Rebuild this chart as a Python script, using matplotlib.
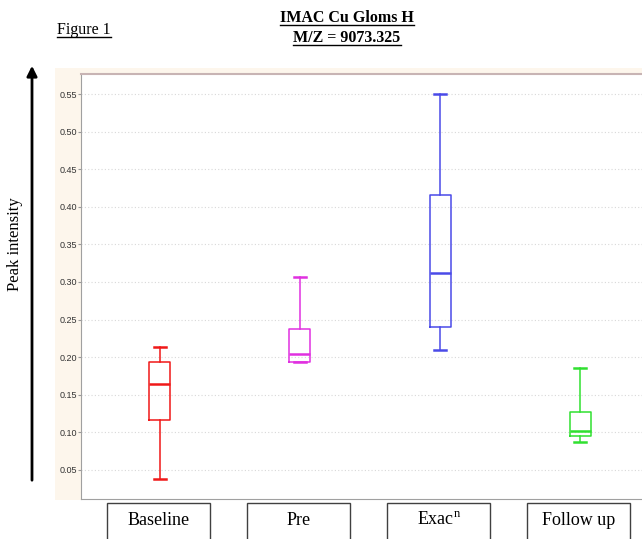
import matplotlib
matplotlib.use('Agg')
import matplotlib.pyplot as plt
from matplotlib.patches import Rectangle, FancyArrowPatch
from matplotlib.lines import Line2D
import matplotlib.transforms as mtransforms

plt.rcParams['mathtext.fontset'] = 'custom'
plt.rcParams['mathtext.rm'] = 'Liberation Serif'

# Datos
categorias = ['Baseline', 'Pre', 'Exac$^{\\mathrm{n}}$', 'Follow up']
whislo = [0.038, 0.193, 0.210, 0.087]
q1 = [0.117, 0.193, 0.240, 0.095]
med = [0.164, 0.204, 0.312, 0.102]
q3 = [0.193, 0.238, 0.416, 0.127]
whishi = [0.213, 0.306, 0.550, 0.185]
colores = ['#f01818', '#e030e0', '#4a4ae8', '#30e030']
yticks = [0.05, 0.10, 0.15, 0.20, 0.25, 0.30, 0.35, 0.40, 0.45, 0.50, 0.55]

W, H = 642, 539
fig = plt.figure(figsize=(W / 100, H / 100), dpi=100)

# panel beige detras del grafico
fondo = fig.add_axes([55 / W, (H - 500) / H, (W - 55) / W, 432 / H], zorder=-5)
fondo.set_facecolor('#fdf6ec')
fondo.set_xticks([])
fondo.set_yticks([])
for s in fondo.spines.values():
    s.set_visible(False)

ax = fig.add_axes([81 / W, (H - 499) / H, (660 - 81) / W, 425 / H], zorder=1)
ax.set_facecolor('white')

stats = []
for i in range(len(categorias)):
    stats.append({'whislo': whislo[i], 'q1': q1[i], 'med': med[i],
                  'q3': q3[i], 'whishi': whishi[i], 'fliers': []})

posiciones = [1, 2, 3, 4]
for i, s in enumerate(stats):
    c = colores[i]
    ax.bxp([s], positions=[posiciones[i]], widths=0.15, showfliers=False,
           boxprops=dict(color=c, linewidth=1.1),
           medianprops=dict(color=c, linewidth=1.8),
           whiskerprops=dict(color=c, linewidth=1.1),
           capprops=dict(color=c, linewidth=1.8),
           capwidths=0.09, zorder=3)

ax.set_xlim(0.436, 4.571)
ax.set_ylim(0.0114, 0.5766)
ax.set_yticks(yticks)
ax.set_yticklabels(['%.2f' % v for v in yticks], fontsize=6.5, color='#333333',
                   family=['Liberation Sans Narrow', 'Liberation Sans'])
ax.set_xticks([])
ax.tick_params(axis='y', length=2, color='#999999', pad=1)
ax.yaxis.grid(True, linestyle=(0, (1, 2)), color='#d8d8d8', linewidth=0.8)
ax.set_axisbelow(True)
for lado in ['left', 'bottom']:
    ax.spines[lado].set_color('#a0a0a0')
ax.spines['top'].set_color('#c8b4b4')
ax.spines['top'].set_linewidth(1.5)
ax.spines['right'].set_visible(False)

# cajas de etiquetas debajo del eje
trans = mtransforms.blended_transform_factory(ax.transData, ax.transAxes)
for i, nombre in enumerate(categorias):
    x = posiciones[i] - 0.01
    ax.add_patch(Rectangle((x - 0.367, -0.12), 0.735, 0.11, transform=trans,
                           facecolor='white', edgecolor='#404040',
                           linewidth=1.0, clip_on=False))
    ax.text(x, -0.05, nombre, transform=trans, ha='center', va='center',
            fontsize=13, family='Liberation Serif', clip_on=False)

# titulos subrayados
t1 = fig.text(347 / W, 1 - 18 / H, 'IMAC Cu Gloms H', ha='center', va='center',
              fontsize=11.5, fontweight='bold', family='Liberation Serif')
t2 = fig.text(347 / W, 1 - 38 / H, 'M/Z = 9073.325', ha='center', va='center',
              fontsize=11.5, fontweight='bold', family='Liberation Serif')
t3 = fig.text(57 / W, 1 - 30 / H, 'Figure 1', ha='left', va='center',
              fontsize=11.5, family='Liberation Serif')

fig.canvas.draw()
r = fig.canvas.get_renderer()
for t in [t1, t2, t3]:
    bb = t.get_window_extent(r).transformed(fig.transFigure.inverted())
    fig.lines.append(Line2D([bb.x0, bb.x1], [bb.y0 + 0.002, bb.y0 + 0.002],
                            transform=fig.transFigure, color='black',
                            linewidth=1.0))

# flecha del eje y etiqueta
fig.patches.append(FancyArrowPatch(
    (32 / W, 1 - 483 / H), (32 / W, 1 - 63 / H), transform=fig.transFigure,
    arrowstyle='-|>,head_length=6,head_width=3', color='black',
    linewidth=2, mutation_scale=1))
fig.text(15 / W, 1 - 244 / H, 'Peak intensity', rotation=90, ha='center',
         va='center', fontsize=12, family='Liberation Serif')

fig.savefig('out.png', dpi=100)
